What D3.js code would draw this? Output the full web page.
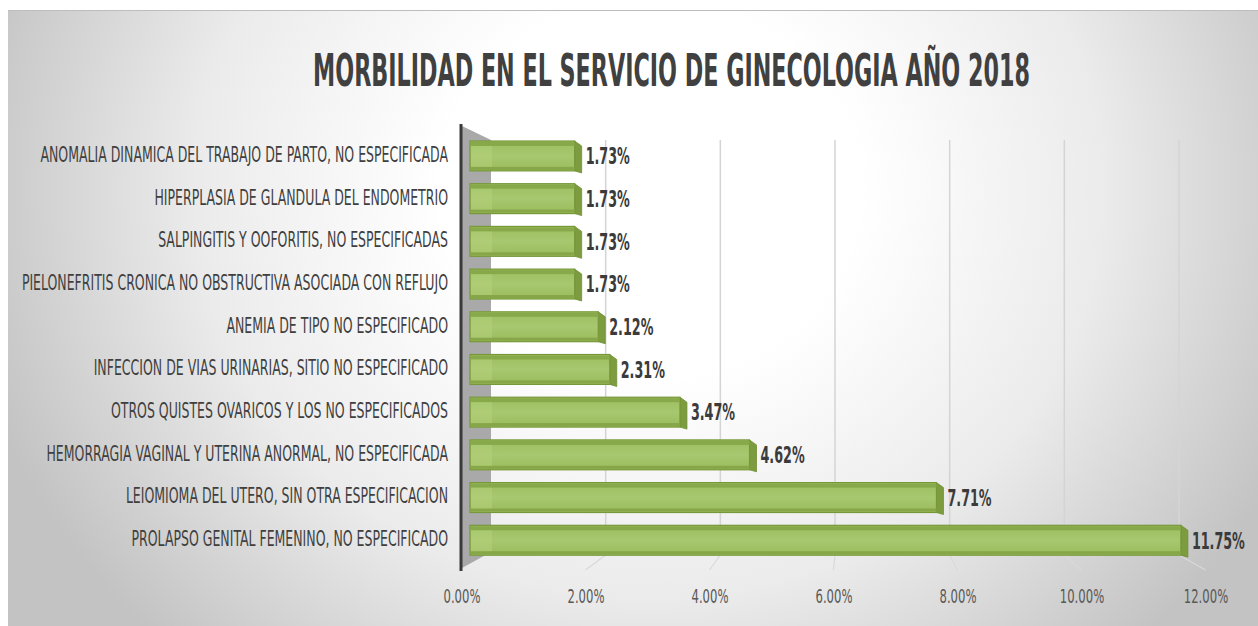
<!DOCTYPE html>
<html>
<head>
<meta charset="utf-8">
<script src="https://cdn.jsdelivr.net/npm/d3@7"></script>
<style>
  body { margin: 0; background: #fff; }
  text { font-family: "Liberation Sans Narrow", "DejaVu Sans Condensed", "Liberation Sans", sans-serif; }
</style>
</head>
<body>
<div id="chart"></div>
<script>
  // DATA
  const categories = [
      "ANOMALIA DINAMICA DEL TRABAJO DE PARTO, NO ESPECIFICADA",
      "HIPERPLASIA DE GLANDULA DEL ENDOMETRIO",
      "SALPINGITIS Y OOFORITIS, NO ESPECIFICADAS",
      "PIELONEFRITIS CRONICA NO OBSTRUCTIVA ASOCIADA CON REFLUJO",
      "ANEMIA DE TIPO NO ESPECIFICADO",
      "INFECCION DE VIAS URINARIAS, SITIO NO ESPECIFICADO",
      "OTROS QUISTES OVARICOS Y LOS NO ESPECIFICADOS",
      "HEMORRAGIA VAGINAL Y UTERINA ANORMAL, NO ESPECIFICADA",
      "LEIOMIOMA DEL UTERO, SIN OTRA ESPECIFICACION",
      "PROLAPSO GENITAL FEMENINO, NO ESPECIFICADO"
  ];
  const values = [1.73, 1.73, 1.73, 1.73, 2.12, 2.31, 3.47, 4.62, 7.71, 11.75];
  const tickValues = [0, 2, 4, 6, 8, 10, 12];
  const title = "MORBILIDAD EN EL SERVICIO DE GINECOLOGIA AÑO 2018";

  const width = 1258, height = 626;

  const svg = d3.select('#chart')
      .append('svg')
      .attr('width', width)
      .attr('height', height);

  const defs = svg.append('defs');

  // background gradient (white centre, grey edges)
  const bg = defs.append('radialGradient')
      .attr('id', 'bg')
      .attr('gradientUnits', 'userSpaceOnUse')
      .attr('cx', 650).attr('cy', 190).attr('r', 700)
      .attr('gradientTransform', 'translate(650,190) scale(1,0.9) translate(-650,-190)');
  bg.append('stop').attr('offset', 0).attr('stop-color', '#ffffff');
  bg.append('stop').attr('offset', 0.3).attr('stop-color', '#ffffff');
  bg.append('stop').attr('offset', 0.65).attr('stop-color', '#ebebeb');
  bg.append('stop').attr('offset', 1).attr('stop-color', '#c3c3c3');

  const barGrad = defs.append('linearGradient')
      .attr('id', 'barFace')
      .attr('x1', 0).attr('y1', 0).attr('x2', 0).attr('y2', 1);
  barGrad.append('stop').attr('offset', 0).attr('stop-color', '#9cbd5e');
  barGrad.append('stop').attr('offset', 0.5).attr('stop-color', '#a8c870');
  barGrad.append('stop').attr('offset', 1).attr('stop-color', '#9aba5c');

  svg.append('rect')
      .attr('x', 8).attr('y', 10)
      .attr('width', width - 8).attr('height', height - 10)
      .attr('fill', 'url(#bg)');
  svg.append('line')
      .attr('x1', 8).attr('x2', width).attr('y1', 10.5).attr('y2', 10.5)
      .attr('stroke', '#bdbdbd');

  // SCALES
  const xFront = d3.scaleLinear().domain([0, 12]).range([461.5, 1205.5]); // axis labels
  const xBack = d3.scaleLinear().domain([0, 12]).range([491, 1179]);      // back wall grid
  const xBar = d3.scaleLinear().domain([0, 12]).range([470, 1196]);       // bar front faces

  const yScale = d3.scaleBand()
      .domain(categories)
      .range([134.6, 561.6])
      .paddingInner(0.3)
      .paddingOuter(0.15);

  const bw = yScale.bandwidth();
  const gridTop = 140, gridBottom = 555, floorY = 570;

  // squeeze a text horizontally so it is as wide as the original
  function squeeze(sel, targetWidth, refIndex, place) {
      const ref = sel.filter((d, i) => i === refIndex).node().getComputedTextLength();
      const k = targetWidth / ref;
      sel.attr('transform', (d, i) => `${place(d, i)} scale(${k},1)`);
  }

  // gridlines on the back wall + floor lines
  svg.append('g')
      .selectAll('line')
      .data(tickValues.slice(1))
      .enter()
      .append('line')
      .attr('x1', d => xBack(d)).attr('x2', d => xBack(d))
      .attr('y1', gridTop).attr('y2', gridBottom)
      .attr('stroke', '#d4d4d4')
      .attr('stroke-width', 1.5);

  svg.append('g')
      .selectAll('line')
      .data(tickValues.slice(1))
      .enter()
      .append('line')
      .attr('x1', d => xBack(d)).attr('y1', gridBottom)
      .attr('x2', d => xFront(d)).attr('y2', floorY)
      .attr('stroke', '#d9d9d9')
      .attr('stroke-width', 1.2);

  // grey side wall
  svg.append('polygon')
      .attr('points', [[462, 126], [xBack(0), 140], [xBack(0), 552], [462, 568]].join(' '))
      .attr('fill', '#a9a9a9');

  // vertical axis line
  svg.append('line')
      .attr('x1', 461).attr('x2', 461)
      .attr('y1', 124).attr('y2', 571)
      .attr('stroke', '#3a3a3a')
      .attr('stroke-width', 3);

  // BARS
  const rows = categories.map((c, i) => ({ cat: c, value: values[i] }));
  const depthX = 7, depthY = 5;

  const bars = svg.append('g')
      .selectAll('g')
      .data(rows)
      .enter()
      .append('g')
      .attr('transform', d => `translate(0,${yScale(d.cat)})`);

  // right end face
  bars.append('polygon')
      .attr('points', d => {
          const xe = xBar(d.value);
          return [[xe, 0], [xe + depthX, depthY], [xe + depthX, bw + 2], [xe, bw]].join(' ');
      })
      .attr('fill', '#7d9c3f')
      .attr('stroke', '#6f8e35')
      .attr('stroke-width', 0.8);

  // front face
  bars.append('rect')
      .attr('x', xBar(0))
      .attr('y', 0)
      .attr('width', d => xBar(d.value) - xBar(0))
      .attr('height', bw)
      .attr('fill', 'url(#barFace)')
      .attr('stroke', '#779839')
      .attr('stroke-width', 1.2);

  // darker top / bottom bands
  bars.append('rect')
      .attr('x', xBar(0) + 1)
      .attr('y', 1)
      .attr('width', d => xBar(d.value) - xBar(0) - 1)
      .attr('height', 4)
      .attr('fill', '#88a94a');
  bars.append('rect')
      .attr('x', xBar(0) + 1)
      .attr('y', bw - 4)
      .attr('width', d => xBar(d.value) - xBar(0) - 1)
      .attr('height', 3)
      .attr('fill', '#86a647');

  // lighter strip where bar meets the wall
  bars.append('rect')
      .attr('x', xBar(0) + 1)
      .attr('y', 5)
      .attr('width', xBack(0) - xBar(0))
      .attr('height', bw - 9)
      .attr('fill', '#b4d27c')
      .attr('opacity', 0.5);

  // value labels
  const valueLabels = bars.append('text')
      .attr('dy', '0.36em')
      .style('font-size', '23px')
      .style('font-weight', 'bold')
      .attr('fill', '#3b3b3b')
      .text(d => d.value.toFixed(2) + '%');
  squeeze(valueLabels, 53, values.length - 1,
      d => `translate(${xBar(d.value) + depthX + 4},${bw / 2})`);

  // category labels
  const catLabels = svg.append('g')
      .selectAll('text')
      .data(rows)
      .enter()
      .append('text')
      .attr('text-anchor', 'end')
      .attr('dy', '0.36em')
      .style('font-size', '22px')
      .attr('fill', '#3f3f3f')
      .text(d => d.cat);
  squeeze(catLabels, 408, 0, d => `translate(448,${yScale(d.cat) + bw / 2 - 2})`);

  // X AXIS
  const xAxis = d3.axisBottom(xFront)
      .tickValues(tickValues)
      .tickFormat(d => d.toFixed(2) + '%')
      .tickSize(0)
      .tickPadding(0);

  const axisG = svg.append('g')
      .attr('transform', 'translate(0,590)')
      .call(xAxis);
  axisG.select('.domain').remove();
  const tickText = axisG.selectAll('text')
      .style('font-size', '19px')
      .style('font-family', '"Liberation Sans Narrow", "DejaVu Sans Condensed", sans-serif')
      .attr('fill', '#595959');
  squeeze(tickText, 37, 0, () => '');

  // TITLE
  const titleText = svg.append('text')
      .attr('text-anchor', 'middle')
      .style('font-size', '44px')
      .style('font-weight', 'bold')
      .attr('fill', '#404040')
      .text(title);
  squeeze(titleText, 717, 0, () => 'translate(671.5,86)');
</script>
</body>
</html>
